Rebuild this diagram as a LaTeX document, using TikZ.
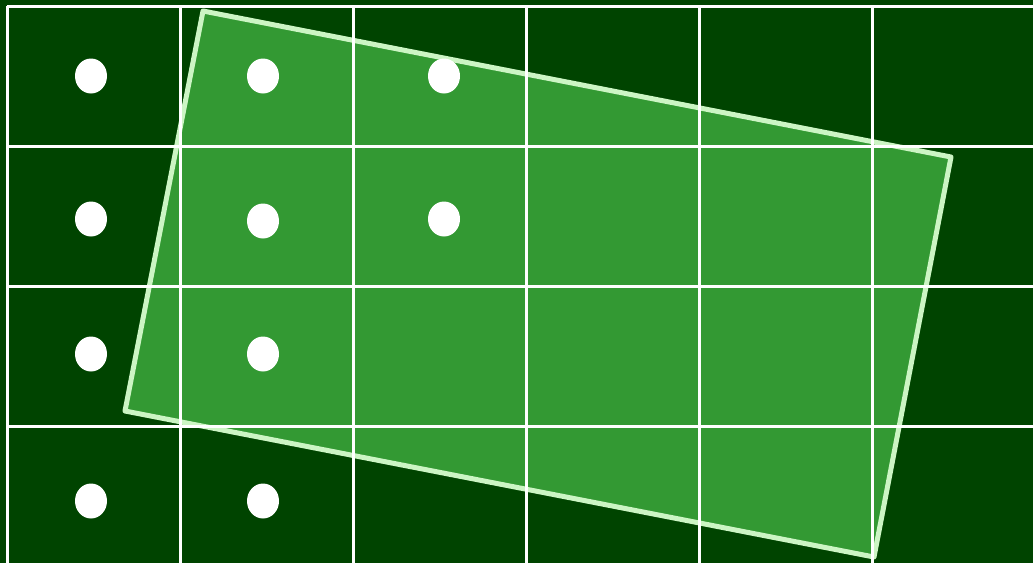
\documentclass[tikz,border=0pt]{standalone}
\usetikzlibrary{shapes.geometric}
\definecolor{bgdark}{RGB}{0,68,0}
\definecolor{rectfill}{RGB}{51,153,51}
\definecolor{rectedge}{RGB}{204,245,196}
\tikzset{
  gridline/.style={white, line width=3pt},
  rotrect/.style={fill=rectfill, draw=rectedge, line width=5pt, line join=round},
  dot/.style={ellipse, fill=white, draw=none, minimum width=32pt, minimum height=35pt, inner sep=0pt}
}
\begin{document}
\begin{tikzpicture}[x=1pt,y=-1pt]
\useasboundingbox (0,0) rectangle (1033,563);
\fill[bgdark] (0,0) rectangle (1033,563);
\coordinate (c1) at (203,11);
\coordinate (c2) at (951,157);
\coordinate (c3) at (874,557);
\coordinate (c4) at (125,411);
\draw[rotrect] (c1) -- (c2) -- (c3) -- (c4) -- cycle;
\foreach \x in {7,180,353,526,699,872} \draw[gridline] (\x,6) -- (\x,570);
\foreach \y in {6,146,286,426} \draw[gridline] (7,\y) -- (1040,\y);
\node[dot] (d11) at (91,76) {};
\node[dot] (d12) at (263,76) {};
\node[dot] (d13) at (444,76) {};
\node[dot] (d21) at (91,219) {};
\node[dot] (d22) at (263,221) {};
\node[dot] (d23) at (444,219) {};
\node[dot] (d31) at (91,354) {};
\node[dot] (d32) at (263,354) {};
\node[dot] (d41) at (91,501) {};
\node[dot] (d42) at (263,501) {};
\end{tikzpicture}
\end{document}
